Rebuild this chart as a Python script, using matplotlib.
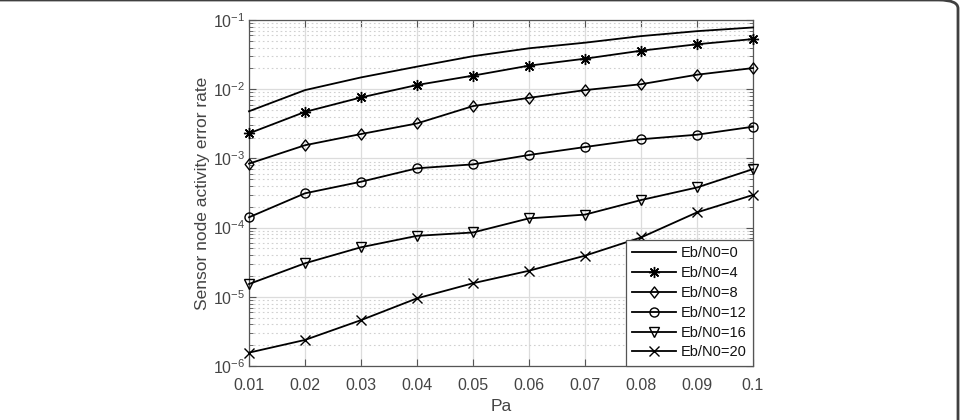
import matplotlib
matplotlib.use("Agg")
import matplotlib.pyplot as plt
from matplotlib.patches import FancyBboxPatch
from matplotlib.path import Path
from matplotlib.ticker import LogLocator, NullFormatter, FixedLocator

plt.rcParams['font.family'] = ['Liberation Sans', 'DejaVu Sans']
plt.rcParams['mathtext.fontset'] = 'custom'
plt.rcParams['mathtext.rm'] = 'Liberation Sans'
plt.rcParams['mathtext.default'] = 'regular'

pa = [0.01, 0.02, 0.03, 0.04, 0.05, 0.06, 0.07, 0.08, 0.09, 0.1]
ebn0_0 = [4.8e-3, 9.7e-3, 1.48e-2, 2.12e-2, 3.0e-2, 3.9e-2, 4.7e-2, 5.85e-2, 6.9e-2, 7.8e-2]
ebn0_4 = [2.3e-3, 4.7e-3, 7.6e-3, 1.15e-2, 1.57e-2, 2.19e-2, 2.76e-2, 3.6e-2, 4.46e-2, 5.3e-2]
ebn0_8 = [8.4e-4, 1.55e-3, 2.25e-3, 3.2e-3, 5.7e-3, 7.5e-3, 9.7e-3, 1.18e-2, 1.62e-2, 2.02e-2]
ebn0_12 = [1.41e-4, 3.13e-4, 4.6e-4, 7.2e-4, 8.2e-4, 1.12e-3, 1.46e-3, 1.89e-3, 2.2e-3, 2.87e-3]
ebn0_16 = [1.53e-5, 3.05e-5, 5.2e-5, 7.6e-5, 8.5e-5, 1.36e-4, 1.54e-4, 2.5e-4, 3.8e-4, 7.0e-4]
ebn0_20 = [1.56e-6, 2.38e-6, 4.6e-6, 9.5e-6, 1.57e-5, 2.38e-5, 3.93e-5, 7.2e-5, 1.66e-4, 2.96e-4]

labels = ['Eb/N0=0', 'Eb/N0=4', 'Eb/N0=8', 'Eb/N0=12', 'Eb/N0=16', 'Eb/N0=20']
series = [ebn0_0, ebn0_4, ebn0_8, ebn0_12, ebn0_16, ebn0_20]

xticks = [0.01, 0.02, 0.03, 0.04, 0.05, 0.06, 0.07, 0.08, 0.09, 0.1]
xticklabels = ['0.01', '0.02', '0.03', '0.04', '0.05', '0.06', '0.07', '0.08', '0.09', '0.1']
yticks = [1e-6, 1e-5, 1e-4, 1e-3, 1e-2, 1e-1]
yticklabels = [r'$10^{-6}$', r'$10^{-5}$', r'$10^{-4}$', r'$10^{-3}$', r'$10^{-2}$', r'$10^{-1}$']

diamond = Path([(0, 1), (0.78, 0), (0, -1), (-0.78, 0), (0, 1)],
               [Path.MOVETO, Path.LINETO, Path.LINETO, Path.LINETO, Path.CLOSEPOLY])
markers = ['None', (8, 2, 0), diamond, 'o', 'v', 'x']
msizes = [0, 8, 8, 6.5, 7.5, 7]

W, H = 963, 420
fig = plt.figure(figsize=(W / 100, H / 100), dpi=100)
ax = fig.add_axes([249 / W, 1 - 366 / H, (753 - 249) / W, (366 - 20) / H])

txtc = '#444444'
for ys, lab, m, ms in zip(series, labels, markers, msizes):
    ax.plot(pa, ys, color='black', lw=1.3, marker=m, markersize=ms,
            markerfacecolor='none', markeredgecolor='black', markeredgewidth=1.0,
            label=lab, zorder=3, clip_on=False)

ax.set_yscale('log')
ax.set_xlim(0.01, 0.1)
ax.set_ylim(1e-6, 1e-1)
ax.xaxis.set_major_locator(FixedLocator(xticks))
ax.set_xticklabels(xticklabels)
ax.yaxis.set_major_locator(FixedLocator(yticks))
ax.set_yticklabels(yticklabels)
ax.yaxis.set_minor_locator(LogLocator(base=10, subs=range(2, 10), numticks=20))
ax.yaxis.set_minor_formatter(NullFormatter())

ax.grid(True, which='major', axis='both', color='#dcdcdc', lw=0.9, zorder=0)
ax.grid(True, which='minor', axis='y', color='#d0d0d0', lw=0.8, ls=(0, (1.5, 2.5)), zorder=0)
ax.set_axisbelow(True)

ax.tick_params(which='both', direction='in', top=True, right=True, colors='#555555',
               labelcolor=txtc, labelsize=11.5)
ax.tick_params(which='major', length=5)
ax.tick_params(axis='x', which='major', pad=9)
ax.tick_params(axis='y', which='major', pad=3)
ax.tick_params(which='minor', length=3)
for s in ax.spines.values():
    s.set_color('#555555')
    s.set_linewidth(0.9)

ax.set_xlabel('Pa', fontsize=12.5, color=txtc, labelpad=4)
ax.set_ylabel('Sensor node activity error rate', fontsize=12.5, color=txtc, labelpad=2)

leg = ax.legend(loc='lower right', fontsize=10.5, frameon=True, fancybox=False,
                borderaxespad=0, handlelength=3.0, labelspacing=0.4,
                borderpad=0.45, handletextpad=0.3, labelcolor='#111111')
leg.get_frame().set_edgecolor('#555555')
leg.get_frame().set_linewidth(0.9)
leg.get_frame().set_alpha(1)

border = FancyBboxPatch((-20 / W, -30 / H), (958 + 20) / W, (420 + 30) / H,
                        boxstyle='round,pad=0,rounding_size=0.02',
                        transform=fig.transFigure, fill=False,
                        edgecolor='#404040', lw=2.0)
fig.patches.append(border)

fig.savefig('out.png', dpi=100)
